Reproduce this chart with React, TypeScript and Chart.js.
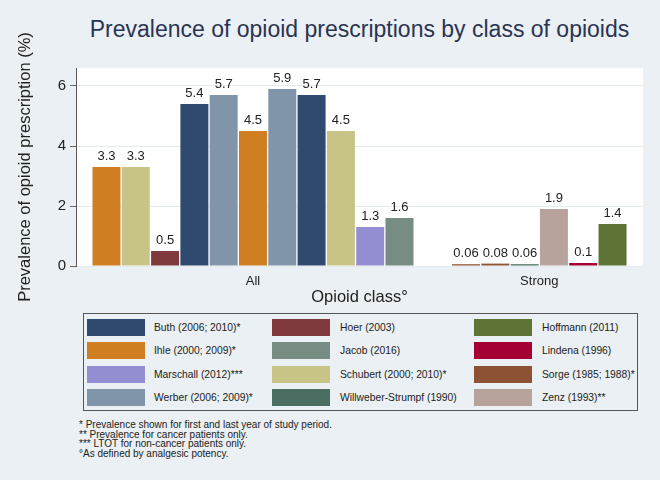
import React, { useEffect, useRef } from "react";
import { Chart, registerables } from "chart.js";

Chart.register(...registerables);

// ---- Data ----
const groups = ["All", "Strong"];

const studyKeys = [
  "Buth", "Hoer", "Hoffmann",
  "Ihle", "Jacob", "Lindena",
  "Marschall", "Schubert", "Sorge",
  "Werber", "Willweber", "Zenz",
];
const studyLabels = [
  "Buth (2006; 2010)*", "Hoer (2003)", "Hoffmann (2011)",
  "Ihle (2000; 2009)*", "Jacob (2016)", "Lindena (1996)",
  "Marschall (2012)***", "Schubert (2000; 2010)*", "Sorge (1985; 1988)*",
  "Werber (2006; 2009)*", "Willweber-Strumpf (1990)", "Zenz (1993)**",
];
const studyColors = [
  "#2e4a6e", "#803a3e", "#5e7437",
  "#cf7f22", "#778d83", "#a50034",
  "#938dd2", "#c8c387", "#8d5133",
  "#8195aa", "#4a6e62", "#b8a29c",
];

const allStudies = ["Ihle", "Schubert", "Hoer", "Buth", "Werber", "Ihle", "Werber", "Buth", "Schubert", "Marschall", "Jacob"];
const allValues = [3.3, 3.3, 0.5, 5.4, 5.7, 4.5, 5.9, 5.7, 4.5, 1.3, 1.6];

const strongStudies = ["Sorge", "Sorge", "Willweber", "Zenz", "Lindena", "Hoffmann"];
const strongValues = [0.06, 0.08, 0.06, 1.9, 0.1, 1.4];

const yTicks = [0, 2, 4, 6];
const yMax = 6.6;

const titleText = "Prevalence of opioid prescriptions by class of opioids";
const yTitle = "Prevalence of opioid prescription (%)";
const xTitle = "Opioid class°";
const footnotes = [
  "* Prevalence shown for first and last year of study period.",
  "** Prevalence for cancer patients only.",
  "*** LTOT for non-cancer patients only.",
  "°As defined by analgesic potency.",
];

// ---- Layout constants ----
const groupGap = 1.27; // extra space between groups, in bar widths
const edgeMargin = 1.04;
const FONT = "'Liberation Sans', Arial, Helvetica, sans-serif";
const BG = "#eaf0f3";

function colorOf(key: string) {
  return studyColors[studyKeys.indexOf(key)];
}

export default function App() {
  const canvasRef = useRef<HTMLCanvasElement | null>(null);

  useEffect(() => {
    const allX = allValues.map((_, i) => 1 + i);
    const strongStart = allX[allX.length - 1] + 1 + groupGap;
    const strongX = strongValues.map((_, i) => strongStart + i);
    const xs = [...allX, ...strongX];
    const ys = [...allValues, ...strongValues];
    const keys = [...allStudies, ...strongStudies];
    const groupCenters = [
      (allX[0] + allX[allX.length - 1]) / 2,
      (strongX[0] + strongX[strongX.length - 1]) / 2,
    ];

    const plotBg = {
      id: "plotBg",
      beforeDraw(chart: any) {
        const { ctx, chartArea } = chart;
        ctx.save();
        ctx.fillStyle = "#ffffff";
        ctx.fillRect(chartArea.left, chartArea.top, chartArea.right - chartArea.left, chartArea.bottom - chartArea.top);
        ctx.restore();
      },
    };

    const valueLabels = {
      id: "valueLabels",
      afterDatasetsDraw(chart: any) {
        const { ctx } = chart;
        const meta = chart.getDatasetMeta(0);
        ctx.save();
        ctx.font = `13px ${FONT}`;
        ctx.fillStyle = "#222";
        ctx.textAlign = "center";
        ctx.textBaseline = "alphabetic";
        meta.data.forEach((bar: any, i: number) => {
          ctx.fillText(String(ys[i]), bar.x, bar.y - 7);
        });
        ctx.restore();
      },
    };

    const chart = new Chart(canvasRef.current as HTMLCanvasElement, {
      type: "bar",
      data: {
        datasets: [
          {
            data: xs.map((x, i) => ({ x, y: ys[i] })),
            backgroundColor: keys.map(colorOf),
            borderWidth: 0,
            barPercentage: 0.955,
            categoryPercentage: 1,
          },
        ],
      },
      options: {
        responsive: false,
        animation: false,
        layout: { padding: { left: 0, right: 17, top: 68, bottom: 0 } },
        plugins: {
          legend: { display: false },
          tooltip: { enabled: false },
        },
        scales: {
          x: {
            type: "linear",
            offset: false,
            min: allX[0] - edgeMargin,
            max: strongX[strongX.length - 1] + edgeMargin,
            grid: { display: false },
            border: { display: false },
            afterBuildTicks: (s: any) => {
              s.ticks = groupCenters.map((v) => ({ value: v }));
            },
            afterFit: (s: any) => {
              s.height = 44;
            },
            ticks: {
              autoSkip: false,
              maxRotation: 0,
              padding: 0,
              color: "#222",
              font: { family: FONT, size: 13 },
              callback: (_v: any, idx: number) => groups[idx],
            },
            title: {
              display: true,
              text: xTitle,
              color: "#222",
              font: { family: FONT, size: 16.5 },
              padding: { top: 3, bottom: 3 },
            },
          },
          y: {
            min: 0,
            max: yMax,
            afterBuildTicks: (s: any) => {
              s.ticks = yTicks.map((v) => ({ value: v }));
            },
            afterFit: (s: any) => {
              s.width = 76;
            },
            grid: {
              color: "#e4ebef",
              lineWidth: 1,
              drawTicks: true,
              tickLength: 6,
              tickColor: "#666",
            },
            border: { display: true, color: "#555", width: 1 },
            ticks: {
              padding: 4,
              color: "#222",
              font: { family: FONT, size: 15 },
              callback: (v: any) => String(v),
            },
            title: {
              display: true,
              text: yTitle,
              color: "#222",
              font: { family: FONT, size: 16.5 },
              padding: { top: 16, bottom: 16 },
            },
          },
        },
      } as any,
      plugins: [plotBg, valueLabels],
    });
    return () => chart.destroy();
  }, []);

  const colBox = [3, 188, 390];
  const colText = [70, 256, 458];

  return (
    <div
      style={{
        position: "absolute",
        left: 0,
        top: 0,
        width: 660,
        height: 480,
        background: BG,
        fontFamily: FONT,
        overflow: "hidden",
      }}
    >
      <div
        style={{
          position: "absolute",
          left: 76,
          width: 567,
          top: 16,
          lineHeight: "26px",
          fontSize: 23,
          textAlign: "center",
          color: "#2b3452",
          whiteSpace: "nowrap",
        }}
      >
        {titleText}
      </div>
      <canvas
        ref={canvasRef}
        width={660}
        height={310}
        style={{ position: "absolute", left: 0, top: 0, width: 660, height: 310 }}
      />
      <div
        style={{
          position: "absolute",
          left: 83,
          top: 313,
          width: 555,
          height: 98,
          boxSizing: "border-box",
          border: "1px solid #555",
        }}
      >
        {studyKeys.map((k, i) => {
          const col = i % 3;
          const row = Math.floor(i / 3);
          const top = 5 + row * 23.3;
          return (
            <React.Fragment key={k}>
              <div
                style={{
                  position: "absolute",
                  left: colBox[col],
                  top,
                  width: 58,
                  height: 17,
                  background: studyColors[i],
                }}
              />
              <div
                style={{
                  position: "absolute",
                  left: colText[col],
                  top,
                  height: 17,
                  lineHeight: "17px",
                  fontSize: 10.3,
                  color: "#222",
                  whiteSpace: "nowrap",
                }}
              >
                {studyLabels[i]}
              </div>
            </React.Fragment>
          );
        })}
      </div>
      <div
        style={{
          position: "absolute",
          left: 79,
          top: 420,
          fontSize: 10,
          lineHeight: "9.7px",
          color: "#222",
        }}
      >
        {footnotes.map((f) => (
          <div key={f} style={{ whiteSpace: "nowrap" }}>
            {f}
          </div>
        ))}
      </div>
    </div>
  );
}
